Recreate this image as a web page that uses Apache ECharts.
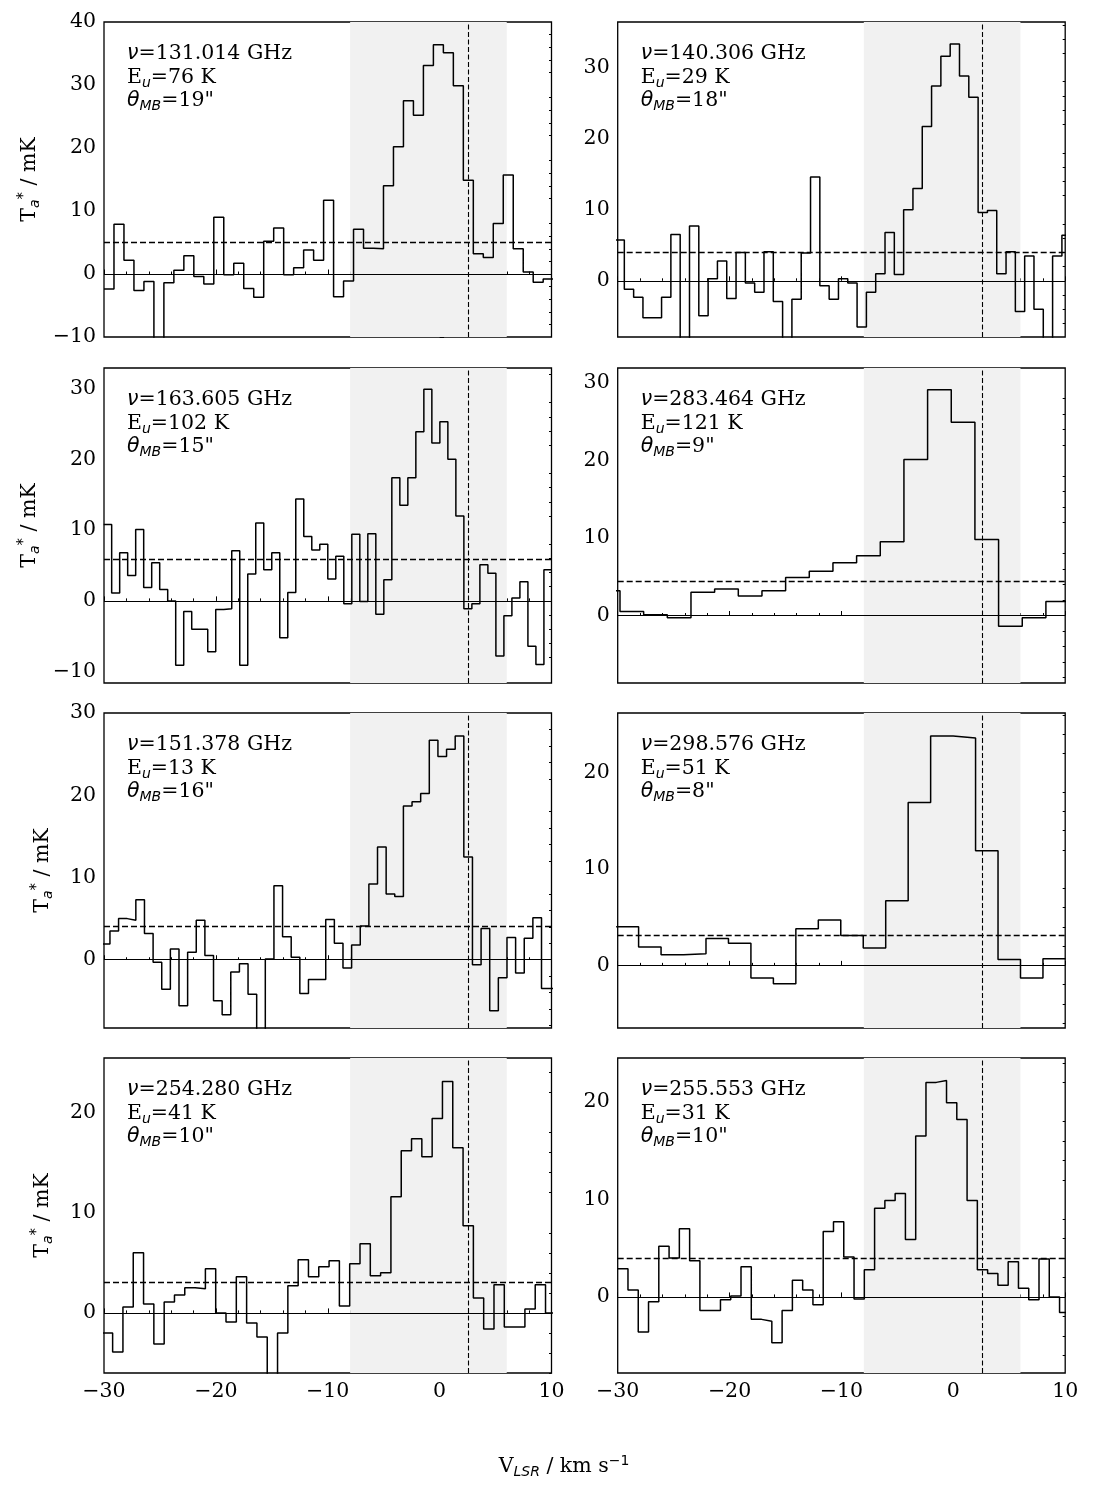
<!DOCTYPE html>
<html>
<head>
<meta charset="utf-8">
<script src="https://cdn.jsdelivr.net/npm/echarts@6/dist/echarts.min.js"></script>
<style>
html,body{margin:0;padding:0;background:#fff;}
#chart{width:1095px;height:1493px;}
</style>
</head>
<body>
<div id="chart"></div>
<script>
// ---------------- DATA ----------------
const freqLabels = ['131.014', '140.306', '163.605', '283.464', '151.378', '298.576', '254.280', '255.553'];
const euLabels = ['76', '29', '102', '121', '13', '51', '41', '31'];
const beamLabels = ['19', '18', '15', '9', '16', '8', '10', '10'];

// first channel left edge (km/s) and channel width (km/s)
const chanStart = [-30.0, -30.24, -30.03, -31.91, -30.24, -30.14, -30.15, -30.0];
const chanWidth = [0.8922, 0.8322, 0.7155, 2.115, 0.7715, 2.008, 0.9213, 0.9185];

const T131 = [-2.4, 7.9, 2.2, -2.6, -1.2, -12, -1.4, 0.6, 2.9, -0.4, -1.6, 9.0, -0.1, 1.7, -2.3, -3.7, 5.2, 7.3, -0.1, 1.0, 3.8, 2.2, 11.7, -3.6, -1.1, 7.1, 4.1, 4.0, 14.0, 20.2, 27.5, 25.2, 33.1, 36.4, 35.1, 29.9, 14.9, 3.2, 2.6, 8.0, 15.7, 4.0, 0.3, -1.3, -0.8];
const T140 = [5.75, -1.2, -2.3, -5.2, -5.2, -2.3, 6.5, -10, 7.7, -4.9, 0.3, 2.8, -2.5, 4.0, -0.3, -1.6, 4.1, -2.9, -10, -2.6, 3.9, 14.6, -0.7, -2.6, 0.3, -0.3, -6.5, -1.6, 1.0, 6.8, 0.9, 10.0, 13.0, 21.7, 27.4, 31.6, 33.3, 28.8, 25.8, 9.6, 9.9, 1.0, 4.1, -4.3, 3.5, -4.0, -10, 3.5, 6.4];
const T163 = [10.8, 1.1, 6.8, 3.6, 10.1, 1.9, 5.4, 1.6, 0.0, -9.1, -1.5, -4.0, -4.0, -7.2, -1.2, -1.1, 7.1, -9.1, 3.8, 11.0, 4.4, 6.8, -5.2, 1.2, 14.4, 9.1, 7.2, 8.0, 3.1, 6.3, -0.4, 9.4, -0.1, 9.5, -1.9, 3.0, 17.4, 13.5, 17.4, 23.9, 29.9, 22.3, 25.3, 20.0, 12.0, -1.1, -0.4, 5.1, 3.9, -7.8, -2.1, 0.4, 2.7, -6.4, -9.0, 4.4];
const T283 = [3.2, 0.5, 0.1, -0.3, 3.0, 3.4, 2.5, 3.2, 4.9, 5.7, 6.8, 7.7, 9.5, 20.1, 29.1, 24.9, 9.8, -1.4, -0.3, 1.8];
const T151 = [1.9, 3.5, 5.0, 4.8, 7.3, 3.2, -0.3, -3.6, 1.3, -5.6, 0.9, 4.8, 0.5, -5.0, -6.7, -1.5, -0.5, -4.2, -10, 0.1, 9.0, 2.8, 0.3, -4.1, -2.4, -2.4, 4.9, 2.0, -1.0, 1.8, 4.1, 9.2, 13.7, 8.0, 7.7, 18.7, 19.2, 20.2, 26.7, 24.7, 25.6, 27.2, 12.5, -0.6, 3.8, -6.2, -2.2, 2.7, -1.6, 2.6, 5.1, -3.5, -3.5];
const T298 = [4.0, 1.9, 1.1, 1.2, 2.8, 2.3, -1.3, -1.9, 3.8, 4.7, 3.1, 1.8, 6.7, 16.9, 23.8, 23.6, 11.9, 0.6, -1.3, 0.7];
const T254 = [-2.0, -3.9, 0.6, 6.0, 0.9, -3.1, 1.1, 1.8, 2.5, 2.4, 4.4, 0.0, -0.9, 3.6, -1.0, -2.4, -7.5, -2.0, 2.7, 5.3, 3.6, 4.6, 5.2, 0.7, 4.9, 6.9, 3.7, 4.0, 11.6, 16.2, 17.4, 15.6, 19.4, 23.1, 16.5, 8.7, 1.5, -1.6, 2.8, -1.4, -1.4, 0.4, 2.8, 0.0];
const T255 = [2.9, 0.7, -3.6, -0.5, 5.2, 4.0, 7.0, 3.7, -1.4, -1.4, -0.3, 0.1, 3.1, -2.3, -2.5, -4.7, -1.4, 1.7, 0.7, -0.8, 6.7, 7.7, 4.1, -0.2, 2.8, 9.1, 9.9, 10.6, 5.9, 16.5, 22.0, 22.2, 19.9, 18.2, 9.9, 2.8, 2.4, 1.2, 3.6, 0.9, -0.3, 3.9, 0.0, -1.6];
const spectra = [T131, T140, T163, T283, T151, T298, T254, T255];

// 3-sigma-like dashed levels (mK)
const noiseLevels = [5.0, 4.0, 5.9, 4.4, 4.1, 3.15, 3.1, 3.95];
// systemic velocity marker and integration window (km/s)
const vMarker = 2.6;
const vWindow = [-8, 6];

// y-axis ranges and tick labels
const yMin = [-10, -7.9, -11.6, -8.7, -8.3, -6.5, -6.0, -7.8];
const yMax = [40, 36.4, 32.9, 31.9, 30.0, 26.2, 25.45, 24.5];
const yTicks = [[-10, 0, 10, 20, 30, 40], [0, 10, 20, 30], [-10, 0, 10, 20, 30], [0, 10, 20, 30], [0, 10, 20, 30], [0, 10, 20], [0, 10, 20], [0, 10, 20]];
const xTicks = [-30, -20, -10, 0, 10];

// ---------------- LAYOUT ----------------
const colLeft = [104, 617.7];
const rowTop = [22, 368, 713, 1058];
const gW = 447.5, gH = 315;
const serif = 'DejaVu Serif';
const FS = 20.5;
const SUB = 14;
const minus = s => String(s).replace('-', '\u2212');

const grids = [], xAxes = [], yAxes = [], series = [], graphics = [];
for (let i = 0; i < 8; i++) {
  const r = Math.floor(i / 2), c = i % 2;
  grids.push({left: colLeft[c], top: rowTop[r], width: gW, height: gH, show: true,
    borderColor: '#000', borderWidth: 1.3, backgroundColor: 'transparent'});
  xAxes.push({type: 'value', gridIndex: i, min: xTicks[0], max: xTicks[xTicks.length - 1], interval: 10,
    axisLine: {show: false},
    axisTick: {show: true, inside: true, length: 4.5, lineStyle: {color: '#000', width: 1}},
    minorTick: {show: true, splitNumber: 5, length: 2.5, lineStyle: {color: '#000', width: 1}},
    splitLine: {show: false}, minorSplitLine: {show: false},
    axisLabel: {show: r === 3, margin: 8, fontFamily: serif, fontSize: FS, color: '#000', formatter: v => minus(v)}
  });
  const minors = [];
  for (let v = Math.ceil(yMin[i] / 2) * 2; v <= yMax[i]; v += 2) if (v % 10 !== 0) minors.push(v);
  yAxes.push({type: 'value', gridIndex: i, min: yMin[i], max: yMax[i],
    axisLine: {show: false}, splitLine: {show: false},
    axisTick: {show: true, inside: true, length: 4.5, customValues: yTicks[i], lineStyle: {color: '#000', width: 1}},
    axisLabel: {show: true, customValues: yTicks[i], margin: 8, fontFamily: serif, fontSize: FS, color: '#000', formatter: v => minus(v)}
  });
  yAxes.push({type: 'value', gridIndex: i, min: yMin[i], max: yMax[i],
    axisLine: {show: false}, splitLine: {show: false}, axisLabel: {show: false},
    axisTick: {show: true, inside: true, length: 2.5, customValues: minors, lineStyle: {color: '#000', width: 1}}
  });
  const yi = 2 * i;
  // shaded window
  series.push({type: 'line', xAxisIndex: i, yAxisIndex: yi, data: [], z: 1, silent: true,
    markArea: {silent: true, itemStyle: {color: '#f1f1f1'}, data: [[{xAxis: vWindow[0]}, {xAxis: vWindow[1]}]]}});
  // reference lines
  series.push({type: 'line', xAxisIndex: i, yAxisIndex: yi, data: [], z: 2, silent: true,
    markLine: {silent: true, symbol: ['none', 'none'], label: {show: false}, animation: false,
      data: [
        {yAxis: 0, lineStyle: {color: '#000', width: 1.2, type: 'solid'}},
        {yAxis: noiseLevels[i], lineStyle: {color: '#000', width: 1.3, type: [6, 3]}},
        {xAxis: vMarker, lineStyle: {color: '#000', width: 1.1, type: [5, 2.5]}}
      ]}});
  // spectrum as step histogram (channel edges)
  const vals = spectra[i];
  const pts = vals.map((t, k) => [chanStart[i] + k * chanWidth[i], t]);
  pts.push([chanStart[i] + vals.length * chanWidth[i], vals[vals.length - 1]]);
  series.push({type: 'line', xAxisIndex: i, yAxisIndex: yi, data: pts, step: 'end', symbol: 'none',
    z: 3, clip: true, silent: true, lineStyle: {color: '#000', width: 1.5}});

  // annotation
  const ax = colLeft[c] + 23, ay = rowTop[r];
  const rich = {
    m: {fontFamily: 'DejaVu Sans', fontStyle: 'italic', fontSize: FS},
    r: {fontFamily: serif, fontSize: FS},
    s: {fontFamily: 'DejaVu Sans', fontStyle: 'italic', fontSize: SUB, padding: [10, 0, 0, 0]}
  };
  const lines = [
    '{m|\u03bd}{r|=' + freqLabels[i] + ' GHz}',
    '{r|E}{s|u}{r|=' + euLabels[i] + ' K}',
    '{m|\u03b8}{s|MB}{r|=' + beamLabels[i] + '"}'
  ];
  const offs = [32, 56, 79];
  lines.forEach((t, k) => graphics.push({type: 'text', x: ax, y: ay + offs[k], silent: true,
    style: {text: t, rich: rich, fill: '#000', textAlign: 'left', textVerticalAlign: 'middle'}}));

  if (c === 0) {
    graphics.push({type: 'text', x: r < 2 ? 30 : 43, y: rowTop[r] + gH / 2, rotation: Math.PI / 2, silent: true,
      style: {text: '{r|T}{s|a}{u|*}{r| / mK}', fill: '#000', textAlign: 'center', textVerticalAlign: 'middle',
        rich: {r: {fontFamily: serif, fontSize: FS}, s: {fontFamily: 'DejaVu Sans', fontStyle: 'italic', fontSize: SUB, padding: [10, 0, 0, 0]},
          u: {fontFamily: 'DejaVu Sans', fontSize: 15, padding: [0, 0, 11, 0]}}}});
  }
}
graphics.push({type: 'text', x: 564, y: 1467, silent: true,
  style: {text: '{r|V}{s|LSR}{r| / km s}{u|\u22121}', fill: '#000', textAlign: 'center', textVerticalAlign: 'middle',
    rich: {r: {fontFamily: serif, fontSize: FS}, s: {fontFamily: 'DejaVu Sans', fontStyle: 'italic', fontSize: SUB, padding: [10, 0, 0, 0]},
      u: {fontFamily: 'DejaVu Sans', fontSize: SUB, padding: [0, 0, 11, 0]}}}});

const chart = echarts.init(document.getElementById('chart'), null, {renderer: 'canvas'});
chart.setOption({
  animation: false,
  backgroundColor: '#fff',
  grid: grids, xAxis: xAxes, yAxis: yAxes, series: series, graphic: graphics
});
</script>
</body>
</html>
